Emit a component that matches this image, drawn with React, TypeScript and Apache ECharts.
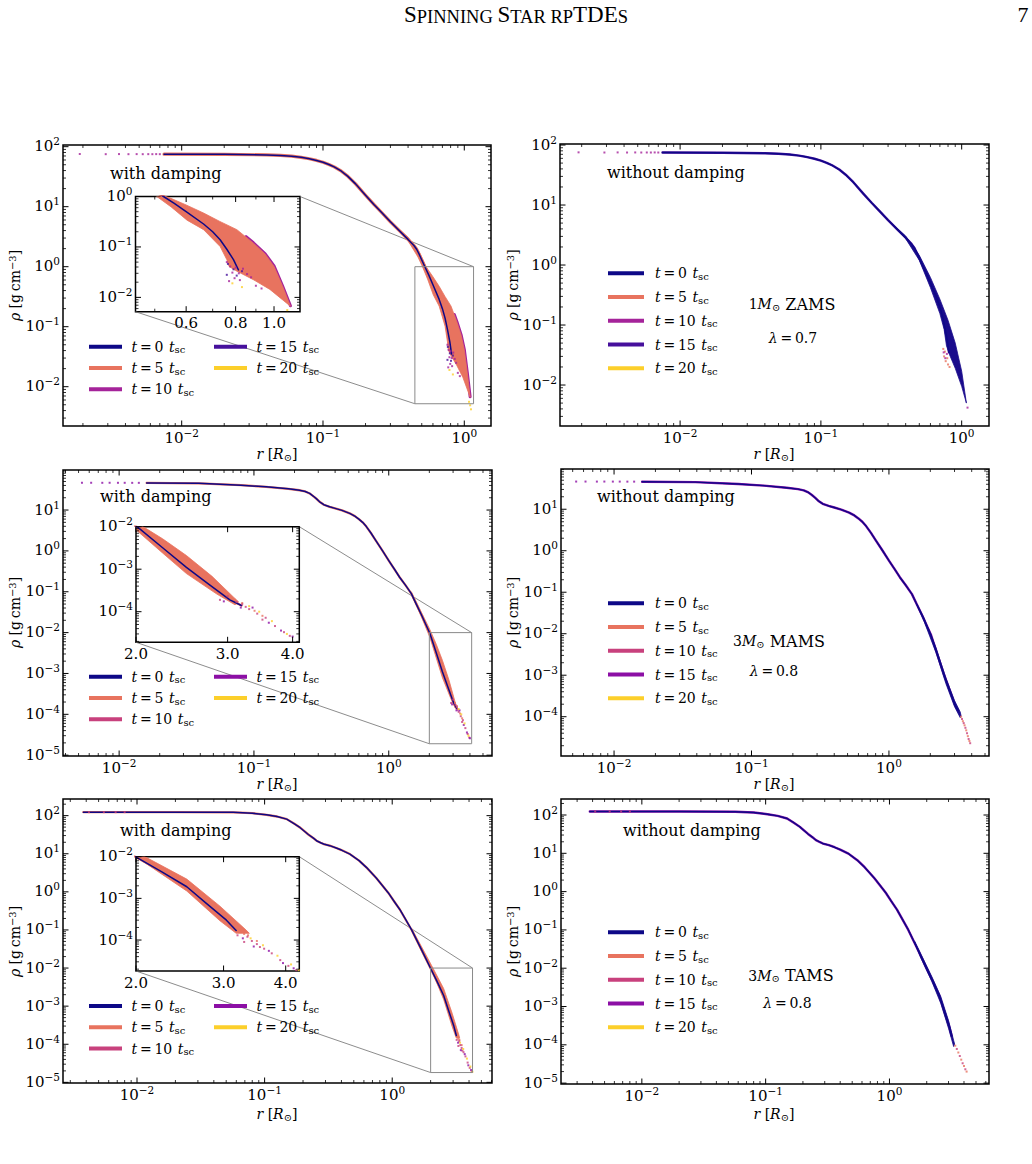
import React, { useEffect, useRef } from "react";
import * as echarts from "echarts";

type Pt = [number, number];

const SERIF = "DejaVu Serif";
const PAGE_W = 1032;
const PAGE_H = 1164;

// snapshot times in units of t_sc
const snapshotTimes = [0, 5, 10, 15, 20];
const colorsSun = ["#0d0887", "#e8735f", "#a5239a", "#46109c", "#fccf2a"];
const colorsHeavy = ["#0d0887", "#e8735f", "#c8417d", "#8c0fa5", "#fccf2a"];
const undampedFill = "#1a0b8c";

// ---------- 1 Msun ZAMS ----------
const zamsT0: Pt[] = [
  [0.0075, 75], [0.02, 74.5], [0.04, 73], [0.05, 71.5], [0.06, 69.5], [0.07, 66.5], [0.08, 63],
  [0.09, 59], [0.1, 55], [0.11, 50.5], [0.12, 46], [0.135, 39], [0.15, 32], [0.17, 24], [0.2, 15.5],
  [0.23, 10.8], [0.26, 8.0], [0.3, 5.6], [0.35, 3.9], [0.4, 2.85], [0.44, 2.25], [0.46, 1.95],
  [0.48, 1.6], [0.526, 1.0], [0.56, 0.73], [0.6, 0.5], [0.664, 0.285], [0.7, 0.2], [0.731, 0.139],
  [0.76, 0.09], [0.79, 0.056], [0.813, 0.035],
];
const zamsCoreDots: Pt[] = [
  [0.0019, 75.5], [0.0029, 75], [0.0036, 75.3], [0.0042, 75], [0.0048, 75.2],
  [0.0053, 75], [0.0058, 75.1], [0.0062, 75], [0.0066, 75.2], [0.007, 75],
];
const zamsDampUpper: Pt[] = [
  [0.3, 5.6], [0.4, 3.1], [0.48, 1.75], [0.536, 1.0], [0.6, 0.68], [0.664, 0.47], [0.73, 0.32],
  [0.806, 0.22], [0.887, 0.119], [0.95, 0.072], [1.0, 0.041], [1.05, 0.017], [1.1, 0.0067],
];
const zamsDampLower: Pt[] = [
  [0.3, 5.6], [0.4, 2.7], [0.47, 1.45], [0.506, 1.0], [0.55, 0.62], [0.603, 0.34], [0.664, 0.22],
  [0.731, 0.102], [0.76, 0.056], [0.77, 0.041], [0.8, 0.034], [0.887, 0.0224], [0.976, 0.0144],
  [1.05, 0.009], [1.1, 0.0067],
];
const zamsDampRim: Pt[] = [
  [0.85, 0.16], [0.887, 0.121], [0.95, 0.073], [1.0, 0.042], [1.05, 0.0172], [1.1, 0.0068],
];
const zamsDampDots10: Pt[] = [
  [0.76, 0.05], [0.775, 0.041], [0.785, 0.031], [0.8, 0.039], [0.815, 0.03], [0.835, 0.037],
  [0.855, 0.029], [0.875, 0.025], [0.795, 0.024], [0.82, 0.022], [0.9, 0.017], [0.93, 0.015], [0.77, 0.021],
];
const zamsDampDots15: Pt[] = [[0.765, 0.046], [0.79, 0.036], [0.805, 0.027], [0.83, 0.033], [0.76, 0.028]];
const zamsDampDots20: Pt[] = [[0.785, 0.019], [1.08, 0.0056], [1.1, 0.0049], [1.115, 0.0042], [0.83, 0.016]];
const zamsFreeUpper: Pt[] = [
  [0.3, 5.6], [0.4, 3.05], [0.5, 1.45], [0.6, 0.62], [0.7, 0.27], [0.8, 0.12], [0.9, 0.05], [1.0, 0.017], [1.08, 0.005],
];
const zamsFreeLower: Pt[] = [
  [0.3, 5.6], [0.4, 2.75], [0.5, 1.2], [0.6, 0.42], [0.7, 0.155], [0.75, 0.085], [0.78, 0.045],
  [0.82, 0.032], [0.9, 0.019], [1.0, 0.0095], [1.08, 0.005],
];
const zamsFreeDots5: Pt[] = [[0.74, 0.04], [0.75, 0.03], [0.76, 0.036], [0.77, 0.025], [0.79, 0.028], [0.8, 0.022], [0.82, 0.02]];
const zamsFreeDots10: Pt[] = [[0.745, 0.035], [0.765, 0.028], [0.785, 0.033], [1.1, 0.0042]];

// ---------- 3 Msun MAMS ----------
const mamsT0: Pt[] = [
  [0.016, 46], [0.039, 45], [0.08, 40.5], [0.123, 37], [0.18, 33], [0.218, 30.5], [0.24, 28.5],
  [0.259, 25.5], [0.275, 22], [0.29, 19], [0.307, 15.9], [0.33, 13.5], [0.364, 12], [0.4, 11],
  [0.45, 9.8], [0.513, 8.3], [0.56, 7.1], [0.6, 6.0], [0.64, 5.0], [0.682, 3.93], [0.74, 2.7],
  [0.8, 1.8], [0.9, 1.0], [1.0, 0.58], [1.1, 0.36], [1.2, 0.23], [1.33, 0.145], [1.47, 0.09],
  [1.6, 0.05], [1.75, 0.027], [1.88, 0.016], [2.02, 0.0095], [2.25, 0.0032], [2.5, 0.0011],
  [2.77, 4.3e-4], [3.03, 1.9e-4], [3.19, 1.4e-4],
];
const mamsCoreDots: Pt[] = [[0.0053, 46.5], [0.0062, 46.5], [0.0075, 46.4], [0.0085, 46.5], [0.0098, 46.4], [0.011, 46.4], [0.0125, 46.3], [0.014, 46.3]];
const mamsDampUpper: Pt[] = [
  [1.47, 0.1], [1.75, 0.031], [2.02, 0.0118], [2.25, 0.0052], [2.5, 0.0021], [2.8, 6.8e-4], [3.08, 2.2e-4], [3.15, 1.7e-4],
];
const mamsDampLower: Pt[] = [
  [1.47, 0.086], [1.75, 0.024], [2.02, 0.0076], [2.25, 0.0024], [2.5, 7.9e-4], [2.86, 2.6e-4], [3.1, 1.45e-4], [3.15, 1.7e-4],
];
const mamsDampDots5: Pt[] = [[3.1, 1.9e-4], [3.2, 1.6e-4], [3.38, 1.05e-4], [3.5, 8e-5]];
const mamsDampDots10: Pt[] = [
  [2.9, 1.9e-4], [3.0, 2.3e-4], [3.12, 1.7e-4], [3.2, 1.5e-4], [3.3, 1.15e-4], [3.42, 9e-5],
  [3.55, 7.2e-5], [3.7, 4.6e-5], [3.85, 3.3e-5], [3.95, 2.7e-5], [3.25, 1.3e-4], [3.5, 6.5e-5],
];
const mamsDampDots15: Pt[] = [[2.95, 1.75e-4], [3.18, 1.25e-4], [3.35, 1.25e-4], [3.6, 5.5e-5], [3.8, 3.6e-5], [4.0, 2.6e-5]];
const mamsDampDots20: Pt[] = [[3.3, 1.35e-4], [3.45, 1.0e-4], [3.65, 6e-5], [3.9, 3.0e-5]];
const mamsFreeUpper: Pt[] = [[1.6, 0.052], [1.8, 0.024], [2.2, 0.0046], [2.6, 8.4e-4], [3.0, 2.45e-4], [3.3, 1.3e-4], [3.35, 1.05e-4]];
const mamsFreeLower: Pt[] = [[1.6, 0.048], [1.8, 0.02], [2.2, 0.0035], [2.6, 6.2e-4], [3.0, 1.75e-4], [3.3, 0.95e-4], [3.35, 1.05e-4]];
const mamsFreeTail5: Pt[] = [[3.35, 1.0e-4], [3.45, 7.8e-5], [3.55, 6.2e-5], [3.65, 4.7e-5], [3.75, 3.4e-5], [3.85, 2.6e-5]];
const mamsFreeTail10: Pt[] = [[3.4, 8.8e-5], [3.5, 7e-5], [3.6, 5.4e-5], [3.7, 4e-5], [3.8, 2.9e-5], [3.9, 2.3e-5]];

// ---------- 3 Msun TAMS ----------
const tamsT0: Pt[] = [
  [0.0038, 123], [0.02, 123], [0.0566, 122], [0.08, 116], [0.1035, 105], [0.125, 95], [0.149, 81],
  [0.17, 62], [0.189, 49], [0.205, 39], [0.22, 32], [0.24, 26], [0.255, 22], [0.275, 19.5], [0.29, 18],
  [0.324, 16.3], [0.36, 14.4], [0.4, 12.5], [0.466, 9.8], [0.55, 6.6], [0.63, 4.33], [0.75, 2.31],
  [0.84, 1.45], [0.93, 0.95], [1.04, 0.55], [1.15, 0.34], [1.28, 0.183], [1.42, 0.1], [1.55, 0.0556],
  [1.7, 0.03], [1.84, 0.0174], [1.98, 0.0105], [2.25, 0.0044], [2.53, 0.0019], [2.77, 7.6e-4],
  [3.04, 3.0e-4], [3.18, 1.7e-4],
];
const tamsCoreDots: Pt[] = [[0.0042, 123.5], [0.0055, 123.5], [0.0068, 123.4], [0.008, 123.5]];
const tamsDampUpper: Pt[] = [[1.42, 0.11], [1.7, 0.036], [2.04, 0.0115], [2.53, 0.0029], [2.95, 6.5e-4], [3.33, 1.74e-4], [3.38, 1.45e-4]];
const tamsDampLower: Pt[] = [[1.42, 0.095], [1.7, 0.027], [2.04, 0.0085], [2.53, 0.0015], [2.95, 2.9e-4], [3.18, 1.45e-4], [3.38, 1.45e-4]];
const tamsDampDots5: Pt[] = [[3.36, 1.3e-4], [3.5, 9.5e-5], [3.3, 1.4e-4]];
const tamsDampDots10: Pt[] = [
  [3.2, 1.3e-4], [3.35, 1.2e-4], [3.42, 9.5e-5], [3.5, 8e-5], [3.62, 6.2e-5], [3.75, 4.8e-5],
  [3.9, 3.3e-5], [4.05, 2.4e-5], [4.2, 1.9e-5], [3.3, 9e-5], [3.55, 6.8e-5],
];
const tamsDampDots15: Pt[] = [[3.28, 1.1e-4], [3.45, 7e-5], [3.7, 5.5e-5], [3.95, 2.8e-5], [4.15, 2.1e-5]];
const tamsDampDots20: Pt[] = [[3.4, 1.1e-4], [3.6, 7.5e-5], [3.85, 4.2e-5], [4.1, 2.6e-5], [4.25, 1.9e-5]];
const tamsFreeUpper: Pt[] = [[1.6, 0.05], [1.8, 0.023], [2.2, 0.006], [2.6, 0.0018], [3.0, 4.3e-4], [3.3, 1.3e-4], [3.36, 1.05e-4]];
const tamsFreeLower: Pt[] = [[1.6, 0.045], [1.8, 0.018], [2.2, 0.0045], [2.6, 0.0012], [3.0, 2.7e-4], [3.3, 0.9e-4], [3.36, 1.05e-4]];
const tamsFreeTail5: Pt[] = [[3.4, 9.5e-5], [3.6, 6.3e-5], [3.8, 4.1e-5], [4.0, 2.8e-5], [4.2, 2.0e-5]];
const tamsFreeTail10: Pt[] = [[3.5, 7.8e-5], [3.7, 5.1e-5], [3.9, 3.3e-5], [4.1, 2.3e-5]];

// inset tick values
const insetSunTicks = [0.6, 0.8, 1.0];
const insetSunMinor = [0.5, 0.7, 0.9];
const insetHeavyTicks = [2.0, 3.0, 4.0];

// ---------- layout ----------
const mainPanels = [
  { grid: { left: 63, top: 145, width: 428, height: 281 }, xr: [10 ** -2.84, 10 ** 0.189], yr: [10 ** -2.655, 10 ** 2.028] },
  { grid: { left: 560, top: 144, width: 429, height: 282 }, xr: [10 ** -2.853, 10 ** 0.194], yr: [10 ** -2.683, 10 ** 2.017] },
  { grid: { left: 63, top: 470, width: 429, height: 286 }, xr: [10 ** -2.4164, 10 ** 0.7658], yr: [10 ** -5.02, 10 ** 1.98] },
  { grid: { left: 561, top: 469, width: 428, height: 287 }, xr: [10 ** -2.386, 10 ** 0.728], yr: [10 ** -4.947, 10 ** 1.97] },
  { grid: { left: 63, top: 799, width: 429, height: 284 }, xr: [10 ** -2.58, 10 ** 0.782], yr: [10 ** -5.017, 10 ** 2.437] },
  { grid: { left: 561, top: 799, width: 428, height: 285 }, xr: [10 ** -2.653, 10 ** 0.804], yr: [10 ** -5.023, 10 ** 2.418] },
];
const insets = [
  { gi: 6, parent: 0, grid: { left: 135.5, top: 196.5, width: 164.5, height: 115.2 }, xr: [0.447, 1.163], yr: [0.0052, 1.0], xMaj: insetSunTicks, xMin: insetSunMinor },
  { gi: 7, parent: 2, grid: { left: 136, top: 526.7, width: 163.3, height: 115.6 }, xr: [2.0, 4.12], yr: [10 ** -4.72, 0.01], xMaj: insetHeavyTicks, xMin: [] as number[] },
  { gi: 8, parent: 4, grid: { left: 136, top: 856.7, width: 163.3, height: 114.3 }, xr: [2.0, 4.26], yr: [10 ** -4.743, 0.01], xMaj: insetHeavyTicks, xMin: [] as number[] },
];

const TICK_RICH = {
  b: { fontFamily: SERIF, fontSize: 15, lineHeight: 18, verticalAlign: "bottom", fill: "#000" },
  s: { fontFamily: SERIF, fontSize: 10.5, lineHeight: 9, verticalAlign: "top", fill: "#000" },
};
const MATH_RICH = {
  i: { fontFamily: SERIF, fontStyle: "italic", fontSize: 14, lineHeight: 16, fill: "#000" },
  r: { fontFamily: SERIF, fontSize: 14, lineHeight: 16, fill: "#000" },
  big: { fontFamily: SERIF, fontSize: 16, lineHeight: 16, fill: "#000" },
  sub: { fontFamily: SERIF, fontSize: 10, lineHeight: 8, verticalAlign: "bottom", fill: "#000" },
  sup: { fontFamily: SERIF, fontSize: 10, lineHeight: 9, verticalAlign: "top", fill: "#000" },
};

function powText(v: number): string {
  const e = Math.round(Math.log10(v));
  return `{b|10}{s|${e < 0 ? "\u2212" + -e : e}}`;
}
function decText(v: number): string {
  return `{b|${v.toFixed(1)}}`;
}

function logTicks(lo: number, hi: number) {
  const major: number[] = [];
  const minor: number[] = [];
  for (let k = Math.floor(Math.log10(lo)); k <= Math.ceil(Math.log10(hi)); k++) {
    for (let m = 1; m <= 9; m++) {
      const v = m * Math.pow(10, k);
      if (v < lo * 0.9999 || v > hi * 1.0001) continue;
      (m === 1 ? major : minor).push(v);
    }
  }
  return { major, minor };
}

function tickSeries(gi: number, xr: number[], yr: number[], xMaj: number[], xMin: number[], yMaj: number[], yMin: number[], xLabel: (v: number) => string) {
  const xm = Math.sqrt(xr[0] * xr[1]);
  const ym = Math.sqrt(yr[0] * yr[1]);
  const data: number[][] = [];
  xMaj.forEach((v) => data.push([v, ym, 1, 0]));
  xMin.forEach((v) => data.push([v, ym, 0, 0]));
  yMaj.forEach((v) => data.push([xm, v, 1, 1]));
  yMin.forEach((v) => data.push([xm, v, 0, 1]));
  return {
    type: "custom",
    xAxisIndex: gi,
    yAxisIndex: gi,
    silent: true,
    clip: false,
    z: 10,
    data,
    renderItem: (params: any, api: any) => {
      const cs = params.coordSys;
      const xv = api.value(0);
      const yv = api.value(1);
      const major = api.value(2) === 1;
      const onY = api.value(3) === 1;
      const p = api.coord([xv, yv]);
      const len = major ? 5.5 : 3;
      const st = { stroke: "#000", lineWidth: major ? 1 : 0.8 };
      const kids: any[] = [];
      if (!onY) {
        const x = p[0];
        kids.push({ type: "line", shape: { x1: x, y1: cs.y + cs.height, x2: x, y2: cs.y + cs.height - len }, style: st });
        kids.push({ type: "line", shape: { x1: x, y1: cs.y, x2: x, y2: cs.y + len }, style: st });
        if (major)
          kids.push({ type: "text", x, y: cs.y + cs.height + 1, style: { text: xLabel(xv), rich: TICK_RICH, align: "center", verticalAlign: "top" } });
      } else {
        const y = p[1];
        kids.push({ type: "line", shape: { x1: cs.x, y1: y, x2: cs.x + len, y2: y }, style: st });
        kids.push({ type: "line", shape: { x1: cs.x + cs.width, y1: y, x2: cs.x + cs.width - len, y2: y }, style: st });
        if (major)
          kids.push({ type: "text", x: cs.x - 3, y: y - 2, style: { text: powText(yv), rich: TICK_RICH, align: "right", verticalAlign: "middle" } });
      }
      return { type: "group", children: kids };
    },
  };
}

function bandSeries(gi: number, upper: Pt[], lower: Pt[], color: string, z = 2) {
  const raw = upper.concat(lower.slice().reverse());
  // drop repeated vertices where the two edges meet
  const verts = raw.filter((v, i) => {
    const prev = raw[(i - 1 + raw.length) % raw.length];
    return !(prev[0] === v[0] && prev[1] === v[1]);
  });
  return {
    type: "custom",
    xAxisIndex: gi,
    yAxisIndex: gi,
    silent: true,
    clip: true,
    z,
    data: verts,
    renderItem: (params: any, api: any) => {
      if (params.dataIndex !== 0) return null;
      const pts = verts.map((v) => api.coord(v));
      return { type: "polygon", shape: { points: pts }, style: { fill: color, stroke: color, lineWidth: 0.8, lineJoin: "round" } };
    },
  };
}

function lineSeries(gi: number, data: Pt[], color: string, width: number, z: number) {
  return {
    type: "line",
    xAxisIndex: gi,
    yAxisIndex: gi,
    data,
    symbol: "none",
    showSymbol: false,
    clip: true,
    silent: true,
    z,
    lineStyle: { color, width, cap: "round", join: "round" },
    itemStyle: { color },
  };
}

function dotSeries(gi: number, data: Pt[], color: string) {
  return {
    type: "scatter",
    xAxisIndex: gi,
    yAxisIndex: gi,
    data,
    symbol: "rect",
    symbolSize: 2,
    clip: true,
    silent: true,
    z: 4,
    itemStyle: { color },
  };
}

function zoomBoxSeries(gi: number, xr: number[], yr: number[]) {
  return {
    type: "custom",
    xAxisIndex: gi,
    yAxisIndex: gi,
    silent: true,
    clip: false,
    z: 6,
    data: [[xr[0], yr[0], xr[1], yr[1]]],
    renderItem: (params: any, api: any) => {
      const a = api.coord([api.value(0), api.value(1)]);
      const b = api.coord([api.value(2), api.value(3)]);
      return {
        type: "rect",
        shape: { x: a[0], y: b[1], width: b[0] - a[0], height: a[1] - b[1] },
        style: { fill: "none", stroke: "#8a8a8a", lineWidth: 1 },
      };
    },
  };
}

function dampedSeries(gi: number, c: string[], t0: Pt[], up: Pt[], lo: Pt[], under: number, dots: [Pt[], string][], rim?: Pt[]) {
  const s: any[] = [lineSeries(gi, t0, c[1], under, 1)];
  if (rim) s.push(lineSeries(gi, rim, c[2], 3, 1));
  s.push(bandSeries(gi, up, lo, c[1]));
  s.push(lineSeries(gi, t0, c[0], 1.5, 3));
  dots.forEach(([d, col]) => s.push(dotSeries(gi, d, col)));
  return s;
}

function undampedSeries(gi: number, c: string[], t0: Pt[], up: Pt[], lo: Pt[], dots: [Pt[], string][]) {
  const s: any[] = [lineSeries(gi, t0, c[3], 2.4, 1)];
  s.push(bandSeries(gi, up, lo, undampedFill));
  s.push(lineSeries(gi, t0, c[0], 1.4, 3));
  dots.forEach(([d, col]) => s.push(dotSeries(gi, d, col)));
  return s;
}

function buildOption() {
  const grids: any[] = [];
  const xAxes: any[] = [];
  const yAxes: any[] = [];
  const hidden = { axisLine: { show: false }, axisTick: { show: false }, axisLabel: { show: false }, splitLine: { show: false }, minorTick: { show: false } };
  const addGrid = (g: any, xr: number[], yr: number[]) => {
    const gi = grids.length;
    grids.push({ ...g, show: true, borderColor: "#000", borderWidth: 1.5, backgroundColor: "#fff", containLabel: false });
    xAxes.push({ type: "log", logBase: 10, gridIndex: gi, min: xr[0], max: xr[1], ...hidden });
    yAxes.push({ type: "log", logBase: 10, gridIndex: gi, min: yr[0], max: yr[1], ...hidden });
  };
  mainPanels.forEach((p) => addGrid(p.grid, p.xr, p.yr));
  insets.forEach((p) => addGrid(p.grid, p.xr, p.yr));

  const series: any[] = [];
  const cS = colorsSun;
  const cH = colorsHeavy;

  // 1 Msun ZAMS, damped: main panel and its inset
  [0, 6].forEach((gi) => {
    series.push(
      ...dampedSeries(gi, cS, zamsT0, zamsDampUpper, zamsDampLower, 3.2,
        [[zamsDampDots10, cS[2]], [zamsDampDots15, cS[3]], [zamsDampDots20, cS[4]], [zamsCoreDots, cS[2]]], zamsDampRim)
    );
  });
  // 1 Msun ZAMS, undamped
  series.push(...undampedSeries(1, cS, zamsT0, zamsFreeUpper, zamsFreeLower, [[zamsFreeDots5, cS[1]], [zamsFreeDots10, cS[2]], [zamsCoreDots, cS[2]]]));
  // 3 Msun MAMS, damped
  [2, 7].forEach((gi) => {
    series.push(
      ...dampedSeries(gi, cH, mamsT0, mamsDampUpper, mamsDampLower, 2.3,
        [[mamsDampDots5, cH[1]], [mamsDampDots10, cH[2]], [mamsDampDots15, cH[3]], [mamsDampDots20, cH[4]], [mamsCoreDots, cH[3]]])
    );
  });
  // 3 Msun MAMS, undamped
  series.push(...undampedSeries(3, cH, mamsT0, mamsFreeUpper, mamsFreeLower, [[mamsFreeTail5, cH[1]], [mamsFreeTail10, cH[2]], [mamsCoreDots, cH[3]]]));
  // 3 Msun TAMS, damped
  [4, 8].forEach((gi) => {
    series.push(
      ...dampedSeries(gi, cH, tamsT0, tamsDampUpper, tamsDampLower, 2.3,
        [[tamsDampDots5, cH[1]], [tamsDampDots10, cH[2]], [tamsDampDots15, cH[3]], [tamsDampDots20, cH[4]], [tamsCoreDots, cH[2]]])
    );
  });
  // 3 Msun TAMS, undamped
  series.push(...undampedSeries(5, cH, tamsT0, tamsFreeUpper, tamsFreeLower, [[tamsFreeTail5, cH[1]], [tamsFreeTail10, cH[2]], [tamsCoreDots, cH[2]]]));

  // zoom boxes
  insets.forEach((ins) => series.push(zoomBoxSeries(ins.parent, ins.xr, ins.yr)));

  // ticks and tick labels
  mainPanels.forEach((p, gi) => {
    const tx = logTicks(p.xr[0], p.xr[1]);
    const ty = logTicks(p.yr[0], p.yr[1]);
    series.push(tickSeries(gi, p.xr, p.yr, tx.major, tx.minor, ty.major, ty.minor, powText));
  });
  insets.forEach((ins) => {
    const ty = logTicks(ins.yr[0], ins.yr[1]);
    series.push(tickSeries(ins.gi, ins.xr, ins.yr, ins.xMaj, ins.xMin, ty.major, ty.minor, decText));
  });

  return {
    animation: false,
    backgroundColor: "#fff",
    grid: grids,
    xAxis: xAxes,
    yAxis: yAxes,
    series,
  };
}

function legendText(t: number) {
  return `{i|t}{r|\u2009=\u2009${t}\u2009\u2009}{i|t}{sub|sc}`;
}

function staticGraphics() {
  const els: any[] = [];
  const text = (x: number, y: number, t: string, align = "left", rotation = 0) =>
    els.push({ type: "text", x, y, rotation, silent: true, z: 20, style: { text: t, rich: MATH_RICH, align, verticalAlign: "middle" } });

  // page header in small capitals
  els.push({
    type: "text", x: 516, y: 14, silent: true,
    style: {
      text: "{b|S}{s|PINNING }{b|S}{s|TAR RP}{b|TDE}{s|S}",
      align: "center", verticalAlign: "middle",
      rich: {
        b: { fontFamily: "Liberation Serif", fontSize: 23, lineHeight: 24, verticalAlign: "bottom", fill: "#000" },
        s: { fontFamily: "Liberation Serif", fontSize: 18.5, lineHeight: 21, verticalAlign: "bottom", fill: "#000" },
      },
    },
  });
  els.push({ type: "text", x: 1023, y: 14, silent: true, style: { text: "7", fontFamily: "Liberation Serif", fontSize: 22, fill: "#000", align: "center", verticalAlign: "middle" } });

  // panel titles
  const titles: [number, number, string][] = [
    [110, 173, "with damping"], [607, 172.5, "without damping"],
    [100, 496, "with damping"], [597, 496, "without damping"],
    [120, 830, "with damping"], [623, 830, "without damping"],
  ];
  titles.forEach(([x, y, t]) => text(x, y, `{big|${t}}`));

  // axis labels
  const yl = "{i|\u03c1}{r| [g\u2009cm}{sup|\u22123}{r|]}";
  const xl = "{i|r}{r| [}{i|R}{sub|\u2299}{r|]}";
  [[15, 285.5], [513, 285], [15, 612.5], [513, 612.5], [15, 941.5], [513, 941.5]].forEach(([x, y]) => text(x, y, yl, "center", Math.PI / 2));
  [[277, 454], [774, 454], [277, 784], [774, 784], [277, 1114], [774, 1114]].forEach(([x, y]) => text(x, y, xl, "center"));

  // legends: two columns on the damped panels
  const leftLegend = (y0: number, cols: string[]) => {
    const slots = [[89, y0], [89, y0 + 21.3], [89, y0 + 42.6], [214, y0], [214, y0 + 21.3]];
    snapshotTimes.forEach((t, i) => {
      const [x, y] = slots[i];
      els.push({ type: "line", silent: true, z: 20, shape: { x1: x, y1: y, x2: x + 33, y2: y }, style: { stroke: cols[i], lineWidth: 4 } });
      text(x + 42.5, y, legendText(t));
    });
  };
  leftLegend(346.7, colorsSun);
  leftLegend(676.7, colorsHeavy);
  leftLegend(1006, colorsHeavy);

  // legends: single column on the undamped panels
  const rightLegend = (y0: number, cols: string[]) => {
    snapshotTimes.forEach((t, i) => {
      const y = y0 + i * 23.75;
      els.push({ type: "line", silent: true, z: 20, shape: { x1: 608, y1: y, x2: 644, y2: y }, style: { stroke: cols[i], lineWidth: 4 } });
      text(655, y, legendText(t));
    });
  };
  rightLegend(273.3, colorsSun);
  rightLegend(603.3, colorsHeavy);
  rightLegend(932.3, colorsHeavy);

  // model annotations
  const notes: [number, number, string, string][] = [
    [792, 304, "1", "ZAMS"], [779, 641, "3", "MAMS"], [791, 975.5, "3", "TAMS"],
  ];
  notes.forEach(([x, y, m, stage]) => text(x, y, `{r|${m}}{i|M}{sub|\u2299}{big| ${stage}}`, "center"));
  const lams: [number, number, string][] = [[793, 338, "0.7"], [774, 670.5, "0.8"], [787.5, 1002.5, "0.8"]];
  lams.forEach(([x, y, l]) => text(x, y, `{i|\u03bb}{r|\u2009=\u2009${l}}`, "center"));
  return els;
}

function connectorGraphics(chart: any) {
  const els: any[] = [];
  insets.forEach((ins) => {
    const pairs = [
      [ins.xr[1], ins.yr[1]],
      [ins.xr[0], ins.yr[0]],
    ];
    pairs.forEach((pt) => {
      const a = chart.convertToPixel({ gridIndex: ins.gi }, pt);
      const b = chart.convertToPixel({ gridIndex: ins.parent }, pt);
      if (!a || !b) return;
      els.push({ type: "line", silent: true, z: 1, shape: { x1: a[0], y1: a[1], x2: b[0], y2: b[1] }, style: { stroke: "#6e6e6e", lineWidth: 0.8 } });
    });
  });
  return els;
}

export default function App() {
  const ref = useRef<HTMLDivElement>(null);
  useEffect(() => {
    if (!ref.current) return;
    const chart = echarts.init(ref.current, null, { renderer: "svg" });
    chart.setOption(buildOption() as any);
    chart.setOption({ graphic: { elements: [...staticGraphics(), ...connectorGraphics(chart)] } } as any);
    return () => chart.dispose();
  }, []);
  return <div ref={ref} style={{ position: "absolute", left: 0, top: 0, width: PAGE_W, height: PAGE_H, background: "#fff" }} />;
}
